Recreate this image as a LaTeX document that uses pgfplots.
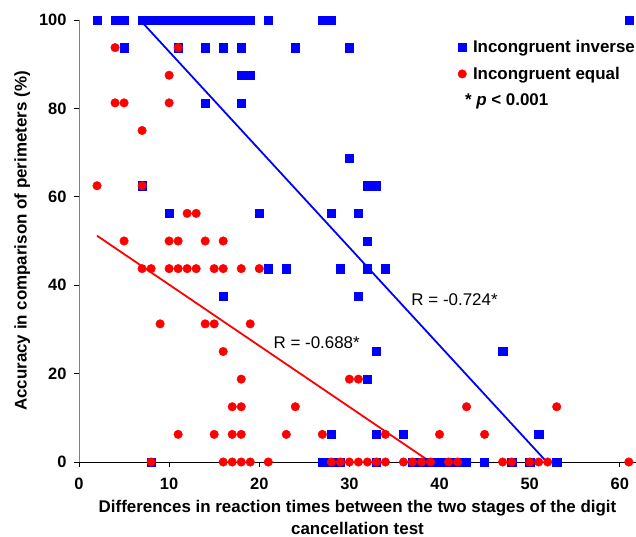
\documentclass[border=0pt]{standalone}
\usepackage{fontspec}
\setmainfont{Liberation Sans}
\usepackage{pgfplots}
\pgfplotsset{compat=1.18}

\definecolor{xlblue}{RGB}{0,0,255}
\definecolor{xlred}{RGB}{255,0,0}

\begin{document}
\begin{tikzpicture}
\begin{axis}[
    name=ax,
    scale only axis,
    width=557bp, height=442bp,
    xmin=0, xmax=61.8, ymin=0, ymax=100,
    axis lines=left,
    axis line style={-, line width=0.8pt},
    y axis line style={gray},
    clip=false,
    tick align=outside,
    major tick length=5bp,
    xtick={0,10,...,60}, ytick={0,20,...,100},
    tick style={black, line width=0.8pt},
    /pgf/number format/assume math mode=true,
    tick label style={font=\fontsize{16.5}{18}\selectfont\bfseries},
    xticklabel style={yshift=-8bp},
    yticklabel style={xshift=-4bp},
    xlabel={Differences in reaction times between the two stages of the digit\\cancellation test},
    xlabel style={align=center, font=\fontsize{17}{22}\selectfont\bfseries},
    xlabel shift=3bp,
    ylabel={Accuracy in comparison of perimeters (\%)},
    ylabel style={font=\fontsize{17}{18}\selectfont\bfseries},
    ylabel shift=2bp,
    legend style={draw=none, fill=none, at={(rel axis cs:0.680,0.959)}, anchor=north west,
      font=\fontsize{17}{18}\selectfont\bfseries, row sep=9bp, inner sep=0pt,
      /tikz/every odd column/.append style={column sep=4.5bp}},
    legend cell align=left,
    legend image code/.code={\draw[mark repeat=2,mark phase=2,#1] plot coordinates {(0cm,0cm) (0.15cm,0cm) (0.3cm,0cm)};},
  ]
  % Incongruent inverse
  \addplot[only marks, mark=square*, mark size=4.1pt, color=xlblue] coordinates {
    (2,100) (4,100) (5,100) (7,100) (8,100) (9,100) (10,100) (11,100) (12,100) (13,100)
    (14,100) (15,100) (16,100) (17,100) (18,100) (19,100) (21,100) (27,100) (28,100) (61,100)
    (5,93.75) (11,93.75) (14,93.75) (16,93.75) (18,93.75) (24,93.75) (30,93.75)
    (18,87.5) (19,87.5)
    (14,81.25) (18,81.25)
    (30,68.75)
    (7,62.5) (32,62.5) (33,62.5)
    (10,56.25) (20,56.25) (28,56.25) (31,56.25)
    (32,50)
    (21,43.75) (23,43.75) (29,43.75) (32,43.75) (34,43.75)
    (16,37.5) (31,37.5)
    (33,25) (47,25)
    (32,18.75)
    (28,6.25) (33,6.25) (36,6.25) (51,6.25)
    (8,0) (27,0) (28,0) (29,0) (33,0) (37,0) (38,0) (39,0) (40,0) (41,0) (42,0) (43,0)
    (45,0) (48,0) (50,0) (53,0)
  };
  \addlegendentry{Incongruent inverse}
  % Incongruent equal
  \addplot[only marks, mark=*, mark size=4.3pt, color=xlred] coordinates {
    (4,93.75) (11,93.75)
    (10,87.5)
    (4,81.25) (5,81.25) (10,81.25)
    (7,75)
    (2,62.5) (7,62.5)
    (12,56.25) (13,56.25)
    (5,50) (10,50) (11,50) (14,50) (16,50)
    (7,43.75) (8,43.75) (10,43.75) (11,43.75) (12,43.75) (13,43.75) (15,43.75) (16,43.75)
    (18,43.75) (20,43.75)
    (9,31.25) (14,31.25) (15,31.25) (19,31.25)
    (16,25)
    (18,18.75) (30,18.75) (31,18.75)
    (17,12.5) (18,12.5) (24,12.5) (43,12.5) (53,12.5)
    (11,6.25) (15,6.25) (17,6.25) (18,6.25) (23,6.25) (27,6.25) (34,6.25) (40,6.25) (45,6.25)
    (8,0) (16,0) (17,0) (18,0) (19,0) (21,0) (28,0) (29,0) (30,0) (31,0) (32,0) (33,0)
    (34,0) (36,0) (37,0) (38,0) (39,0) (41,0) (42,0) (47,0) (48,0) (50,0) (51,0) (52,0) (61,0)
  };
  \addlegendentry{Incongruent equal}
  \addlegendimage{empty legend}
  \addlegendentry{\hspace*{-8bp}* \textit{p} < 0.001}
  % regression lines
  \addplot[xlblue, line width=1.8pt, no marks, forget plot] coordinates {(7,99.5) (51.9,0)};
  \addplot[xlred, line width=1.8pt, no marks, forget plot] coordinates {(2,51.2) (39,0)};
  \node[anchor=west, font=\fontsize{17}{18}\selectfont] at (axis cs:36.5,36.7) {R = -0.724*};
  \node[anchor=west, font=\fontsize{17}{18}\selectfont] at (axis cs:21.2,26.9) {R = -0.688*};
\end{axis}
\pgfresetboundingbox
\path[use as bounding box] (ax.south west) ++(-79bp,-75bp) rectangle ++(636bp,537bp);
\end{tikzpicture}
\end{document}
